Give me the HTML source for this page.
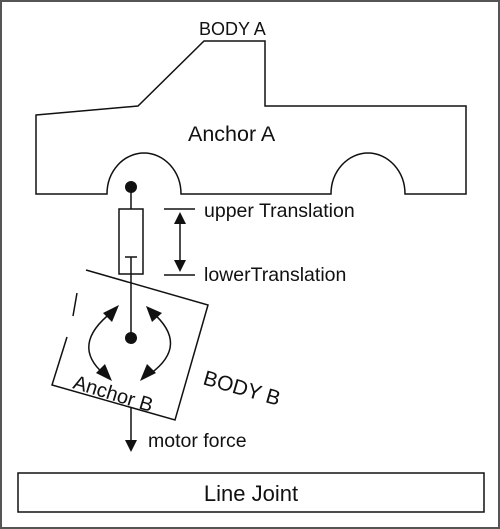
<!DOCTYPE html>
<html><head><style>
html,body{margin:0;padding:0;background:#fff}
svg{display:block}
text{font-family:"Liberation Sans",sans-serif;fill:#111}
</style></head><body>
<svg width="500" height="529" viewBox="0 0 500 529" xmlns="http://www.w3.org/2000/svg">
<rect x="1" y="1" width="498" height="527" fill="#fff" stroke="#555" stroke-width="2"/>
<g fill="none" stroke="#111" stroke-width="1.5">
<path d="M36,115 L138,106 L204,41 L265,41 L265,106 L466,106 L466,194 L405,194 A37,41 0 0 0 331,194 L181,194 A37,41 0 0 0 107,194 L36,194 Z"/>
<line x1="131" y1="187" x2="131" y2="209"/>
<rect x="119" y="209" width="24" height="65"/>
<line x1="125" y1="257" x2="137" y2="257"/>
<line x1="131" y1="257" x2="131" y2="338"/>
<line x1="164" y1="209" x2="195" y2="209"/>
<line x1="164" y1="275" x2="195" y2="275"/>
<line x1="180" y1="220" x2="180" y2="264"/>
<path d="M86,270 L208,305 L175,420 L52,385 L67,337 M73,316 L77,293"/>
<path d="M112,312 Q70,345 104,374"/>
<path d="M152,312 Q190,345 150,374"/>
<line x1="131" y1="408" x2="131" y2="440"/>
<rect x="18" y="473" width="466" height="39"/>
</g>
<g fill="#111">
<circle cx="131" cy="187" r="6"/>
<circle cx="131" cy="338" r="6"/>
<polygon points="180,212 174,224 186,224"/>
<polygon points="180,272 174,260 186,260"/>
<polygon points="119,305 103,313 112,322"/>
<polygon points="112,381 96,373 105,364"/>
<polygon points="146,306 162,313 152,322"/>
<polygon points="140,381 156,373 147,364"/>
<polygon points="131,452 125,440 137,440"/>
</g>
<text x="199" y="35" font-size="18">BODY A</text>
<text x="188" y="141" font-size="21.5">Anchor A</text>
<text x="204" y="217" font-size="19.5">upper Translation</text>
<text x="204" y="281" font-size="19.5">lowerTranslation</text>
<text x="0" y="0" font-size="21" transform="translate(202,384) rotate(16)">BODY B</text>
<text x="0" y="0" font-size="20" transform="translate(72,388) rotate(17)">Anchor B</text>
<text x="148" y="447" font-size="19.5">motor force</text>
<text x="251" y="501" font-size="22" text-anchor="middle">Line Joint</text>
</svg>
</body></html>
